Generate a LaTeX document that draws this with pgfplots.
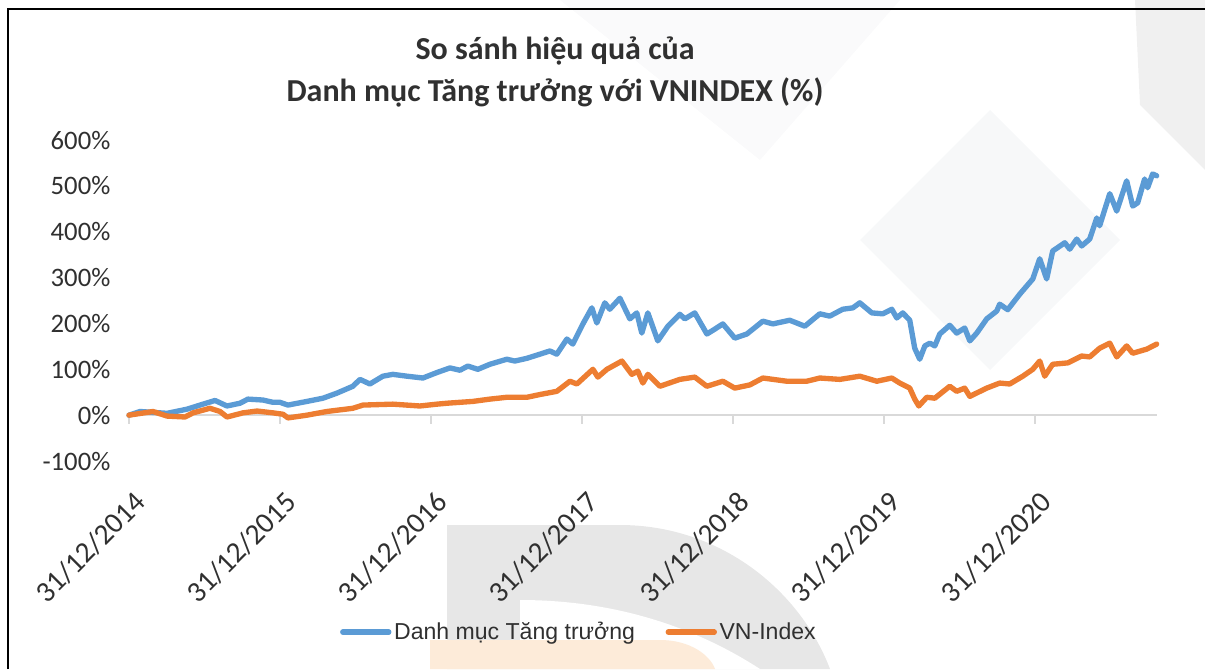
\documentclass[border=0pt]{standalone}
\usepackage{fontspec}
\setmainfont{Carlito}
\newfontfamily\legfont{Liberation Sans}
\usepackage{pgfplots}
\pgfplotsset{compat=1.18}
\definecolor{sblue}{HTML}{5B9BD5}
\definecolor{sorange}{HTML}{ED7D31}
\definecolor{axgray}{HTML}{D9D9D9}
\definecolor{txt}{HTML}{303030}
\definecolor{wm}{HTML}{E7E7E7}
\definecolor{wmo}{HTML}{FDEBD9}
\definecolor{wml}{HTML}{F7F8F9}
\definecolor{wmt}{HTML}{FAFAFB}
\definecolor{wmd}{HTML}{F0F0F0}
\begin{document}
\begin{tikzpicture}
\path[use as bounding box] (0,0) rectangle (903.75pt,-501.75pt);
\begin{scope}[x=0.75pt,y=-0.75pt]
  % faint watermark shapes
  \fill[wml] (860,240) -- (990,110) -- (1120,240) -- (990,370) -- cycle;
  \fill[wmt] (560,0) -- (900,0) -- (760,160) -- cycle;
  \fill[wmd] (1135,0) -- (1205,0) -- (1205,170) -- (1140,105) -- cycle;
  \fill[wm] (447,669) -- (447,525) -- (620,525) .. controls (720,525) and (800,590) .. (830,669) -- cycle;
  \fill[white] (520,669) -- (520,600) .. controls (620,600) and (700,630) .. (760,669) -- cycle;
  \fill[wmo] (430,669) -- (430,640) -- (660,640) .. controls (690,640) and (710,655) .. (715,669) -- cycle;
  % frame
  \draw[black, line width=2.2pt] (8,669) -- (8,9) -- (1205,9);
\end{scope}
\node[font=\bfseries\fontsize{24}{31.5}\selectfont, text=txt, align=center] at (416.25pt,-54pt)
  {So sánh hiệu quả của\\Danh mục Tăng trưởng với VNINDEX (\%)};
\begin{axis}[
  at={(96.75pt,-345.75pt)}, anchor=south west,
  scale only axis, width=771pt, height=240.75pt,
  xmin=0, xmax=6.81, ymin=-100, ymax=600,
  axis line style={draw=none},
  major tick length=0pt,
  xtick={0,1,2,3,4,5,6},
  xticklabels={31/12/2014,31/12/2015,31/12/2016,31/12/2017,31/12/2018,31/12/2019,31/12/2020},
  ytick={-100,0,100,200,300,400,500,600},
  yticklabels={-100\%,0\%,100\%,200\%,300\%,400\%,500\%,600\%},
  tick label style={text=txt, inner sep=0pt},
  yticklabel style={font=\fontsize{20}{22}\selectfont, xshift=-13.8pt},
  xticklabel style={font=\fontsize{22}{25}\selectfont, rotate=45, anchor=east, yshift=-25.5pt, xshift=-13pt},
  legend columns=2,
  legend style={at={(axis description cs:0.438,-0.533)}, anchor=center, draw=none, fill=none,
    font=\legfont\fontsize{17.3}{20}\selectfont, text=txt,
    /tikz/every even column/.append style={column sep=21pt}},
  legend image code/.code={\draw[#1] (0pt,0pt) -- (34.5pt,0pt);},
  clip=false,
]
\draw[axgray, line width=1.5pt] (axis cs:0,0) -- (axis cs:6.81,0);
\pgfplotsinvokeforeach{0,1,2,3,4,5,6}{
  \draw[axgray, line width=1.5pt] (axis cs:#1,0) -- ++(0pt,-6.75pt);
}
\addplot[sblue, line width=4pt, line join=round, line cap=round] coordinates {
(0,0) (0.073,8) (0.252,4) (0.384,13) (0.490,24) (0.570,32) (0.649,20) (0.735,26) (0.788,35) (0.887,33) (0.954,28) (1.000,28) (1.053,22) (1.179,30) (1.285,37) (1.377,48) (1.483,63) (1.530,78) (1.596,68) (1.682,85) (1.748,89) (1.841,85) (1.947,81) (2.040,93) (2.126,103) (2.192,98) (2.245,107) (2.311,100) (2.391,111) (2.503,122) (2.556,118) (2.636,124) (2.722,133) (2.788,140) (2.834,133) (2.901,166) (2.940,155) (3.007,199) (3.066,234) (3.099,201) (3.152,245) (3.185,231) (3.252,255) (3.318,210) (3.364,223) (3.397,179) (3.437,223) (3.503,162) (3.570,194) (3.649,220) (3.682,210) (3.748,223) (3.828,177) (3.868,185) (3.934,199) (4.013,168) (4.093,177) (4.199,205) (4.265,199) (4.377,207) (4.477,194) (4.576,221) (4.642,216) (4.728,231) (4.795,234) (4.841,245) (4.921,223) (4.993,221) (5.053,231) (5.086,212) (5.126,223) (5.172,207) (5.205,146) (5.238,122) (5.272,151) (5.305,157) (5.338,151) (5.371,177) (5.437,196) (5.483,179) (5.536,190) (5.570,162) (5.616,179) (5.682,210) (5.748,227) (5.768,242) (5.821,230) (5.901,264) (5.987,297) (6.033,341) (6.079,297) (6.119,358) (6.199,376) (6.232,362) (6.278,384) (6.311,369) (6.364,384) (6.411,430) (6.430,413) (6.497,483) (6.543,445) (6.609,511) (6.649,456) (6.682,463) (6.728,515) (6.748,496) (6.781,526) (6.808,522)
};
\addlegendentry{Danh mục Tăng trưởng}
\addplot[sorange, line width=4pt, line join=round, line cap=round] coordinates {
(0,0) (0.159,8) (0.252,-2) (0.371,-4) (0.424,5) (0.536,15) (0.603,8) (0.649,-4) (0.755,5) (0.848,9) (0.954,5) (1.020,2) (1.053,-6) (1.179,0) (1.311,8) (1.483,15) (1.550,22) (1.748,24) (1.927,20) (2.040,24) (2.106,26) (2.278,30) (2.391,35) (2.503,39) (2.636,39) (2.722,45) (2.834,52) (2.921,74) (2.967,68) (3.073,100) (3.106,83) (3.166,100) (3.265,118) (3.331,89) (3.371,96) (3.404,70) (3.437,89) (3.517,63) (3.649,78) (3.748,83) (3.828,63) (3.934,74) (4.013,59) (4.113,66) (4.199,81) (4.358,74) (4.490,74) (4.576,81) (4.709,78) (4.841,85) (4.954,74) (5.053,81) (5.106,70) (5.172,59) (5.205,35) (5.232,20) (5.285,39) (5.338,37) (5.437,63) (5.483,52) (5.536,59) (5.570,41) (5.682,59) (5.768,70) (5.834,68) (5.921,85) (5.987,100) (6.033,118) (6.066,85) (6.119,111) (6.219,114) (6.311,129) (6.364,127) (6.430,146) (6.497,157) (6.543,127) (6.609,151) (6.649,135) (6.742,144) (6.808,155)
};
\addlegendentry{VN-Index}
\end{axis}
\end{tikzpicture}
\end{document}
